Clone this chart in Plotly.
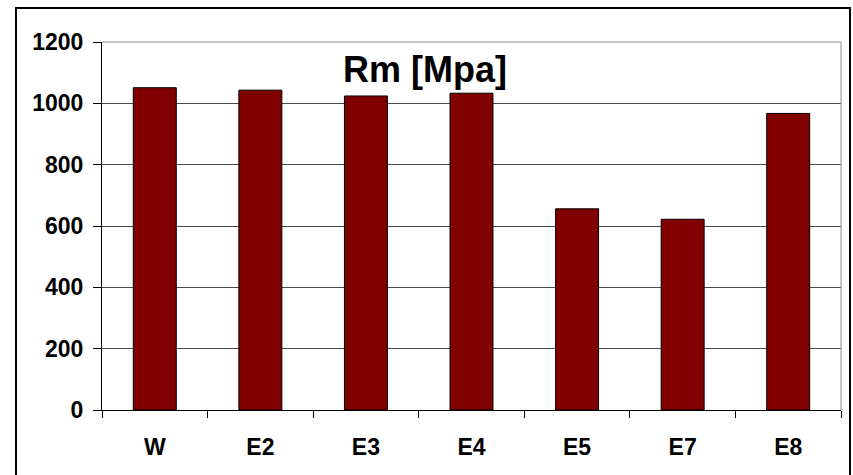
import plotly.graph_objects as go

# Tensile strength per specimen
categories = ["W", "E2", "E3", "E4", "E5", "E7", "E8"]
rm_values = [1051, 1043, 1024, 1033, 656, 622, 967]
y_ticks = [0, 200, 400, 600, 800, 1000, 1200]

W, H = 853, 475
L, R, T, B = 102, 12, 42, 65
pw, ph = W - L - R, H - T - B

def px_x(x):
    return (x - L) / pw

def px_y(y):
    return (H - B - y) / ph

font_main = "Liberation Sans, Arial, sans-serif"

fig = go.Figure(
    go.Bar(
        x=categories,
        y=rm_values,
        marker=dict(color="#800000", line=dict(color="#000000", width=1)),
    )
)

fig.update_layout(
    width=W,
    height=H,
    margin=dict(l=L, r=R, t=T, b=B),
    paper_bgcolor="white",
    plot_bgcolor="white",
    bargap=0.593,
    showlegend=False,
    font=dict(family=font_main, color="black"),
)

fig.update_xaxes(
    type="category",
    tickson="boundaries",
    ticks="outside",
    ticklen=7,
    tickcolor="#000000",
    showline=True,
    linecolor="#000000",
    linewidth=1,
    showgrid=False,
    tickvals=categories,
    ticktext=[f"<b>{c}</b>" for c in categories],
    tickfont=dict(size=23, family=font_main),
    ticklabelstandoff=16,
)

fig.update_yaxes(
    range=[0, 1200],
    tickvals=y_ticks,
    ticktext=[f"<b>{v}</b>" for v in y_ticks],
    ticks="outside",
    ticklen=8,
    tickcolor="#000000",
    showline=True,
    linecolor="#000000",
    linewidth=1,
    showgrid=True,
    gridcolor="#4a4a4a",
    gridwidth=1,
    zeroline=False,
    tickfont=dict(size=23, family=font_main),
    ticklabelstandoff=5,
)

shapes = [
    # plot area frame (top and right)
    dict(type="line", xref="paper", yref="paper", x0=0, x1=1, y0=1, y1=1,
         line=dict(color="#8c8c8c", width=1)),
    dict(type="line", xref="paper", yref="paper", x0=1, x1=1, y0=0, y1=1,
         line=dict(color="#8c8c8c", width=1)),
    # outer chart border
    dict(type="rect", xref="paper", yref="paper",
         x0=px_x(16), x1=px_x(850), y0=px_y(490), y1=px_y(8),
         line=dict(color="#000000", width=2), fillcolor="rgba(0,0,0,0)",
         layer="above"),
]
fig.update_layout(shapes=shapes)

fig.add_annotation(
    text="<b>Rm [Mpa]</b>",
    xref="paper", yref="paper",
    x=px_x(425), y=px_y(69),
    xanchor="center", yanchor="middle",
    showarrow=False,
    font=dict(size=36, family=font_main, color="black", weight=700),
)

fig.write_html("out.html")
